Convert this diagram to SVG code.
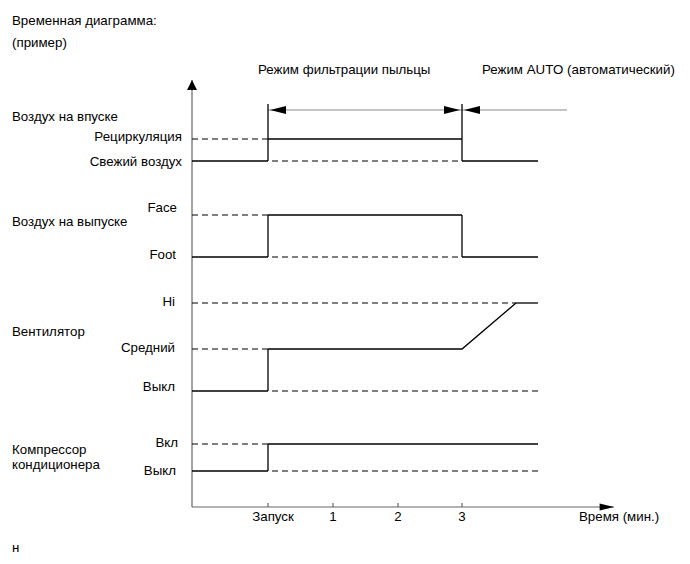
<svg xmlns="http://www.w3.org/2000/svg" width="690" height="564" viewBox="0 0 690 564">
<style>
text{font-family:"Liberation Sans",Arial,sans-serif;font-size:13.3px;fill:#000}
.r{text-anchor:end}
.m{text-anchor:middle}
.s{stroke:#000;stroke-width:1.3;fill:none}
.d{stroke:#000;stroke-width:1.2;fill:none;stroke-dasharray:6,4}
.ax{stroke:#666;stroke-width:1.2;fill:none}
.g{stroke:#888;stroke-width:1;fill:none}
</style>
<defs>
<marker id="ah" viewBox="0 0 10 10" refX="10" refY="5" markerWidth="10" markerHeight="10" markerUnits="userSpaceOnUse" orient="auto"><path d="M0,0L10,5L0,10z" fill="#000"/></marker>
<marker id="ah2" viewBox="0 0 16 10" refX="16" refY="5" markerWidth="15" markerHeight="9" markerUnits="userSpaceOnUse" orient="auto"><path d="M0,1L16,5L0,9z" fill="#000"/></marker>
</defs>
<g id="title">
<text x="12" y="25">Временная диаграмма:</text>
<text x="12" y="47">(пример)</text>
</g>
<g id="axes">
<line class="ax" x1="192" y1="507" x2="192" y2="80" marker-end="url(#ah)"/>
<line class="ax" x1="192" y1="507" x2="614" y2="507" marker-end="url(#ah2)"/>
<line class="ax" x1="268" y1="503" x2="268" y2="507"/>
<line class="ax" x1="333" y1="503" x2="333" y2="507"/>
<line class="ax" x1="398" y1="503" x2="398" y2="507"/>
<line class="ax" x1="462" y1="503" x2="462" y2="507"/>
<text x="273" y="521" class="m">Запуск</text>
<text x="333" y="521" class="m">1</text>
<text x="398" y="521" class="m">2</text>
<text x="462" y="521" class="m">3</text>
<text x="579" y="521">Время (мин.)</text>
</g>
<g id="modes">
<text x="258" y="74">Режим фильтрации пыльцы</text>
<text x="482" y="74">Режим AUTO (автоматический)</text>
<line class="g" x1="268" y1="110" x2="462" y2="110"/>
<line class="g" x1="462" y1="110" x2="567" y2="110"/>
<path d="M270,110L286,106L286,114z" fill="#000"/>
<path d="M460,110L444,106L444,114z" fill="#000"/>
<path d="M464,110L480,106L480,114z" fill="#000"/>
</g>
<g id="intake">
<text x="12" y="121">Воздух на впуске</text>
<text x="182" y="141" class="r">Рециркуляция</text>
<text x="182" y="166" class="r">Свежий воздух</text>
<line class="d" x1="192" y1="139" x2="268" y2="139"/>
<line class="s" x1="192" y1="161" x2="268" y2="161"/>
<line class="s" x1="268" y1="104" x2="268" y2="161"/>
<line class="s" x1="268" y1="139" x2="462" y2="139"/>
<line class="d" x1="272" y1="161" x2="462" y2="161"/>
<line class="s" x1="462" y1="104" x2="462" y2="161"/>
<line class="s" x1="462" y1="161" x2="538" y2="161"/>
</g>
<g id="outlet">
<text x="12" y="226">Воздух на выпуске</text>
<text x="177" y="212" class="r">Face</text>
<text x="176" y="259" class="r">Foot</text>
<line class="d" x1="192" y1="215" x2="268" y2="215"/>
<line class="s" x1="192" y1="257" x2="268" y2="257"/>
<line class="s" x1="268" y1="215" x2="268" y2="257"/>
<line class="s" x1="268" y1="215" x2="462" y2="215"/>
<line class="d" x1="272" y1="257" x2="462" y2="257"/>
<line class="s" x1="462" y1="215" x2="462" y2="257"/>
<line class="s" x1="462" y1="257" x2="538" y2="257"/>
</g>
<g id="fan">
<text x="12" y="336">Вентилятор</text>
<text x="175" y="306" class="r">Hi</text>
<text x="175" y="352" class="r">Средний</text>
<text x="175" y="391" class="r">Выкл</text>
<line class="d" x1="192" y1="303" x2="516" y2="303"/>
<line class="s" x1="516" y1="303" x2="538" y2="303"/>
<line class="d" x1="192" y1="349" x2="268" y2="349"/>
<polyline class="s" points="268,349 462,349 516,303"/>
<line class="s" x1="192" y1="391" x2="268" y2="391"/>
<line class="s" x1="268" y1="349" x2="268" y2="391"/>
<line class="d" x1="272" y1="391" x2="538" y2="391"/>
</g>
<g id="compressor">
<text x="12" y="454">Компрессор</text>
<text x="12" y="469">кондиционера</text>
<text x="178" y="447" class="r">Вкл</text>
<text x="176" y="475" class="r">Выкл</text>
<line class="d" x1="192" y1="444" x2="268" y2="444"/>
<line class="s" x1="268" y1="444" x2="538" y2="444"/>
<line class="s" x1="192" y1="471" x2="268" y2="471"/>
<line class="s" x1="268" y1="444" x2="268" y2="471"/>
<line class="d" x1="272" y1="471" x2="538" y2="471"/>
</g>
<text x="12" y="552">н</text>
</svg>
